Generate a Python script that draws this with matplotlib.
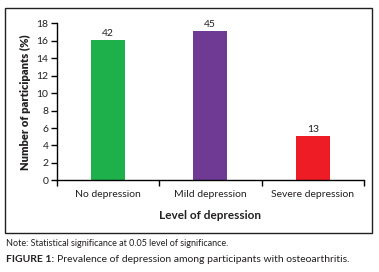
import matplotlib.pyplot as plt
from matplotlib.patches import Rectangle

# Datos
niveles = ["No depression", "Mild depression", "Severe depression"]
porcentajes = [16.1, 17.1, 5.1]
participantes = [42, 45, 13]
colores = ["#1DB04B", "#6E3A93", "#EE1D25"]

plt.rcParams['font.family'] = ['Lato', 'DejaVu Sans']
texto = "#231F20"

fig = plt.figure(figsize=(3.79, 2.72), dpi=100)
ax = fig.add_axes([0.150, 0.337, 0.810, 0.577])

pos = range(len(niveles))
barras = ax.bar(pos, porcentajes, width=0.33, color=colores)
for b, n in zip(barras, participantes):
    ax.text(b.get_x() + b.get_width() / 2, b.get_height() + 0.2, str(n),
            ha="center", va="bottom", fontsize=7.5, color=texto)

ax.set_xlim(-0.5, 2.5)
ax.set_ylim(0, 18)
ax.set_yticks(range(0, 19, 2))
ax.set_xticks(list(pos))
ax.set_xticklabels(niveles)
ax.set_xticks([-0.5, 0.5, 1.5, 2.5], minor=True)
ax.tick_params(axis="x", which="major", length=0, pad=7, labelsize=7.5, labelcolor=texto)
ax.tick_params(axis="x", which="minor", length=4, width=1, direction="out")
ax.tick_params(axis="y", length=4, width=1, labelsize=7.5, labelcolor=texto, pad=2)

for lado in ["top", "right"]:
    ax.spines[lado].set_visible(False)
for lado in ["left", "bottom"]:
    ax.spines[lado].set_linewidth(1)

ax.set_xlabel("Level of depression", fontsize=8.5, fontweight="bold", color=texto, labelpad=8)
ax.set_ylabel("Number of participants (%)", fontsize=8, fontweight="heavy", color=texto, labelpad=4)

# Marco alrededor del grafico
fig.patches.append(Rectangle((5 / 379, 1 - 233 / 272), 367 / 379, 225 / 272,
                             transform=fig.transFigure, fill=False,
                             edgecolor="#231F20", linewidth=1))

fig.text(6 / 379, 1 - 243 / 272, "Note: Statistical significance at 0.05 level of significance.",
         fontsize=6.5, color=texto, va="center")
etiqueta = fig.text(6 / 379, 1 - 260 / 272, "FIGURE 1:", fontsize=7.5, fontweight="bold",
                    color=texto, va="center")
fig.canvas.draw()
caja = etiqueta.get_window_extent()
fig.text((caja.x1 + 3) / 379, 1 - 260 / 272,
         "Prevalence of depression among participants with osteoarthritis.",
         fontsize=7.5, color=texto, va="center")

fig.savefig("out.png", dpi=100)
